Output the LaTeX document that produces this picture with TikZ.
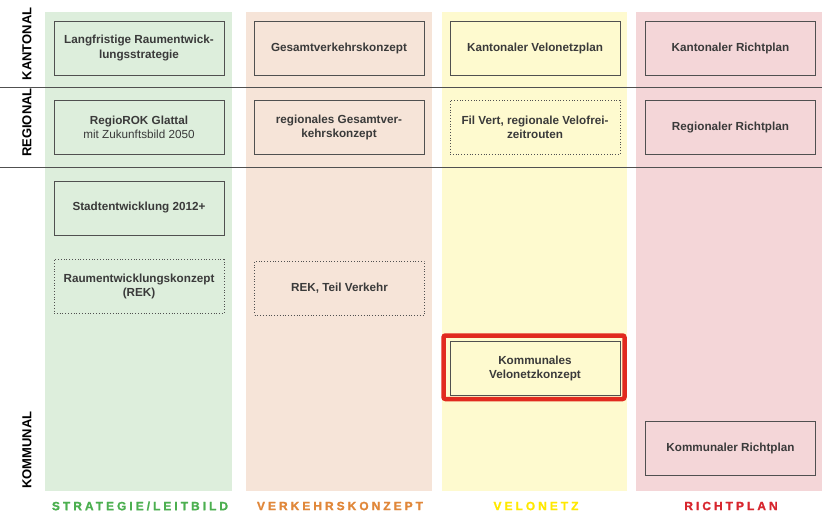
\documentclass[tikz,border=0pt]{standalone}
\usepackage{fontspec}
\setmainfont{Liberation Sans}
\newfontfamily\trackfont[LetterSpace=25,FakeBold=1.2]{Liberation Sans Bold}
\usetikzlibrary{positioning}

\definecolor{fillstrat}{HTML}{DDEEDC}
\definecolor{fillverk}{HTML}{F6E4D8}
\definecolor{fillvelo}{HTML}{FEFACF}
\definecolor{fillricht}{HTML}{F4D6D8}
\definecolor{labstrat}{HTML}{4CAF50}
\definecolor{labverk}{HTML}{E0873A}
\definecolor{labvelo}{HTML}{FFE800}
\definecolor{labricht}{HTML}{D7262E}
\definecolor{boxgray}{HTML}{505050}
\definecolor{textgray}{HTML}{3A3A3A}
\definecolor{frame}{HTML}{E12A1F}

\tikzset{
  plan/.style={draw=boxgray, line width=0.8pt, minimum width=170pt, minimum height=54pt,
    inner sep=2pt, align=center, text=textgray, font=\fontsize{11.7}{14.5}\selectfont\bfseries},
  planopen/.style={plan, dotted},
  level/.style={rotate=90, font=\fontsize{13}{15}\selectfont\bfseries},
  column/.style={font=\fontsize{12}{14}\selectfont\trackfont}
}

\begin{document}
\begin{tikzpicture}[x=1pt,y=-1pt]
\useasboundingbox (0,0) rectangle (822,513);

% Column backgrounds
\fill[fillstrat] (45,12) rectangle (232,491);
\fill[fillverk]  (246,12) rectangle (432,491);
\fill[fillvelo]  (442,12) rectangle (627,491);
\fill[fillricht] (636,12) rectangle (822,491);

% Level separators
\draw[boxgray,line width=0.8pt] (0,87) -- (822,87);
\draw[boxgray,line width=0.8pt] (0,167) -- (822,167);

% Level labels
\node[level] (kant) at (27,44) {KANTONAL};
\node[level] (reg)  at (27,122.5) {REGIONAL};
\node[level] (komm) at (27,450) {KOMMUNAL};

% Strategie / Leitbild
\node[plan] (strat-kant) at (139,48) {Langfristige Raumentwick-\\lungsstrategie};
\node[plan] (strat-reg)  at (139,127.5) {RegioROK Glattal\\\mdseries mit Zukunftsbild 2050};
\node[plan] (strat-komm) at (139,208) {Stadtentwicklung 2012+};
\node[planopen] (strat-rek) at (139,286.5) {Raumentwicklungskonzept\\(REK)};

% Verkehrskonzept
\node[plan] (verk-kant) at (339,48) {Gesamtverkehrskonzept};
\node[plan] (verk-reg)  at (339,127.5) {regionales Gesamtver-\\kehrskonzept};
\node[planopen] (verk-rek) at (339.5,288) {REK, Teil Verkehr};

% Velonetz
\node[plan] (velo-kant) at (535,48) {Kantonaler Velonetzplan};
\node[planopen] (velo-reg) at (535,127.5) {Fil Vert, regionale Velofrei-\\zeitrouten};
\node[plan] (velo-komm) at (535,368.5) {Kommunales\\Velonetzkonzept};
\draw[frame,line width=4.5pt,rounded corners=2pt] (443.5,335.5) rectangle (624.5,399);

% Richtplan
\node[plan] (richt-kant) at (730.5,48) {Kantonaler Richtplan};
\node[plan] (richt-reg)  at (730.5,127.5) {Regionaler Richtplan};
\node[plan] (richt-komm) at (730.5,448) {Kommunaler Richtplan};

% Column labels
\node[column,text=labstrat] (lab-strat) at (140,506) {STRATEGIE/LEITBILD};
\node[column,text=labverk]  (lab-verk)  at (340,506) {VERKEHRSKONZEPT};
\node[column,text=labvelo]  (lab-velo)  at (536,506) {VELONETZ};
\node[column,text=labricht] (lab-richt) at (731,506) {RICHTPLAN};
\end{tikzpicture}
\end{document}
